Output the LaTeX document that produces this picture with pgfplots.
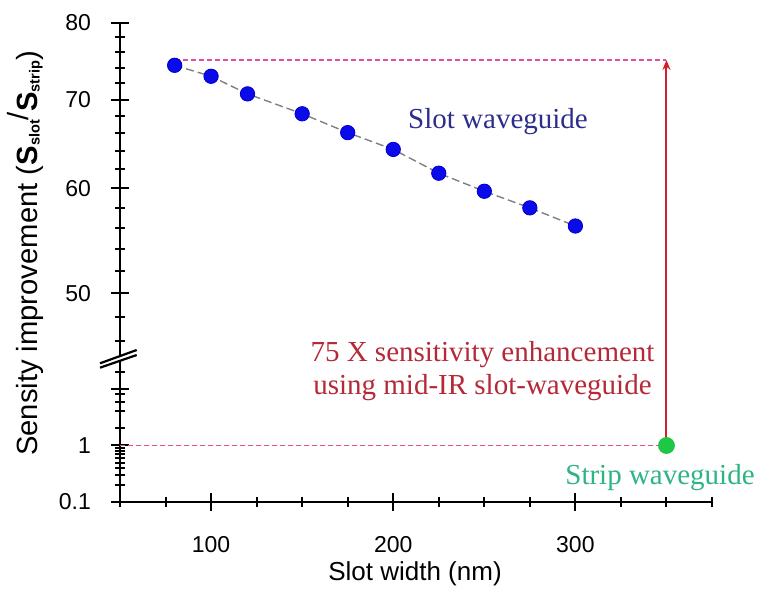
\documentclass[border=0pt]{standalone}
\usepackage{fontspec}
\setmainfont{Liberation Sans}
\newfontfamily\serif{Liberation Serif}
\usepackage{pgfplots}
\pgfplotsset{compat=1.18}
\usetikzlibrary{arrows.meta}
\definecolor{dotblue}{RGB}{10,10,235}
\definecolor{slotnavy}{RGB}{45,45,140}
\definecolor{redtxt}{RGB}{180,40,55}
\definecolor{arrowred}{RGB}{210,30,40}
\definecolor{pinkdash}{RGB}{225,80,145}
\definecolor{stripgreen}{RGB}{45,180,130}
\definecolor{dotgreen}{RGB}{30,200,70}
\pgfplotsset{brk/.style={
  scale only axis, width=296pt, xmin=50, xmax=375,
  tick align=outside, major tick length=9pt, minor tick length=5pt,
  tick style={line width=1pt, black},
  clip=false,
  ticklabel style={font=\fontsize{11.5}{13}\selectfont},
  yticklabel style={xshift=-6.5pt},
  xticklabel style={yshift=-9pt},
},
noarrow/.style={
  axis line style={line width=1.1pt, -},
  x axis line style={-},
  y axis line style={-},
  every outer x axis line/.append style={-},
  every outer y axis line/.append style={-},
  every inner x axis line/.append style={-},
  every inner y axis line/.append style={-},
}}
\begin{document}
\begin{tikzpicture}
\path[use as bounding box] (0,0) rectangle (384.5pt,295.5pt);
% upper segment
\begin{axis}[ymode=log, brk, at={(60pt,118.5pt)}, anchor=south west, height=165.65pt,
  ymin=45, ymax=80, axis x line=none, axis y line=left,
  ytick={50,60,70,80}, yticklabels={50,60,70,80},
  minor ytick={46,48,52,54,56,58,62,64,66,68,72,74,76,78}, noarrow]
\addplot[pinkdash, dash pattern=on 2.5pt off 1.5pt, line width=0.8pt] coordinates {(80,75) (350,75)};
\addplot[gray, dash pattern=on 4pt off 2pt, line width=0.7pt, mark=*, mark size=3.6pt,
  mark options={solid, fill=dotblue, draw=blue!80!black, line width=0.4pt}] coordinates {
(80,74.3) (100,72.9) (120,70.7) (150,68.3) (175,66.1) (200,64.2) (225,61.6) (250,59.7) (275,58.0) (300,56.2)};
\coordinate (top) at (axis cs:350,75);
\end{axis}
% lower segment
\begin{axis}[ymode=log, brk, at={(60pt,44.5pt)}, anchor=south west, height=70pt,
  ymin=0.1, ymax=30, axis x line=bottom, axis y line=left,
  ytick={0.1,1,10}, yticklabels={0.1,1,{}},
  minor ytick={0.2,0.3,0.4,0.5,0.6,0.7,0.8,0.9,2,4,6,8,20},
  xtick={100,200,300}, xticklabels={100,200,300},
  minor xtick={50,75,125,150,175,225,250,275,325,350,375}, noarrow]
\addplot[pinkdash, dash pattern=on 2.5pt off 1.5pt, line width=0.8pt] coordinates {(50,1) (350,1)};
\coordinate (bot) at (axis cs:350,1);
\end{axis}
\draw[arrowred, line width=1pt, shorten <=3pt, -{Stealth[length=5pt,width=4pt]}] (bot) -- (top);
\begin{axis}[ymode=log, brk, at={(60pt,44.5pt)}, anchor=south west, height=70pt,
  ymin=0.1, ymax=30, hide axis]
\addplot[only marks, mark=*, mark size=4pt, color=dotgreen] coordinates {(350,1)};
\end{axis}
% axis break
\draw[line width=1.1pt] (60pt,118.5pt) -- (60pt,114.5pt);
\fill[white] (50pt,113.85pt) -- (68.35pt,120.5pt) -- (68.35pt,118pt) -- (50pt,111.65pt) -- cycle;
\draw[line width=1.1pt] (50pt,113.85pt) -- (68.35pt,120.5pt);
\draw[line width=1.1pt] (50pt,111.65pt) -- (68.35pt,118pt);
% texts
\node[font=\serif\fontsize{14.5}{16.5}\selectfont, text=slotnavy] at (249pt,234.5pt) {Slot waveguide};
\node[font=\serif\fontsize{14.5}{16.5}\selectfont, text=redtxt, align=center] at (241.25pt,109.75pt) {75 X sensitivity enhancement\\using mid-IR slot-waveguide};
\node[font=\serif\fontsize{14.5}{16.5}\selectfont, text=stripgreen] at (330pt,56.5pt) {Strip waveguide};
\node[rotate=90, anchor=base west, font=\fontsize{14.6}{16}\selectfont] at (18.5pt,64pt)
  {Sensity improvement (\textbf{S}{\fontsize{7.3}{8}\selectfont\raisebox{-0.35ex}{\textbf{slot}}}\raisebox{0.55ex}{/}\textbf{S}{\fontsize{7.3}{8}\selectfont\raisebox{-0.35ex}{\textbf{strip}}})};
\node[anchor=base, font=\fontsize{13}{15}\selectfont] at (207.5pt,5.5pt) {Slot width (nm)};
\end{tikzpicture}
\end{document}
